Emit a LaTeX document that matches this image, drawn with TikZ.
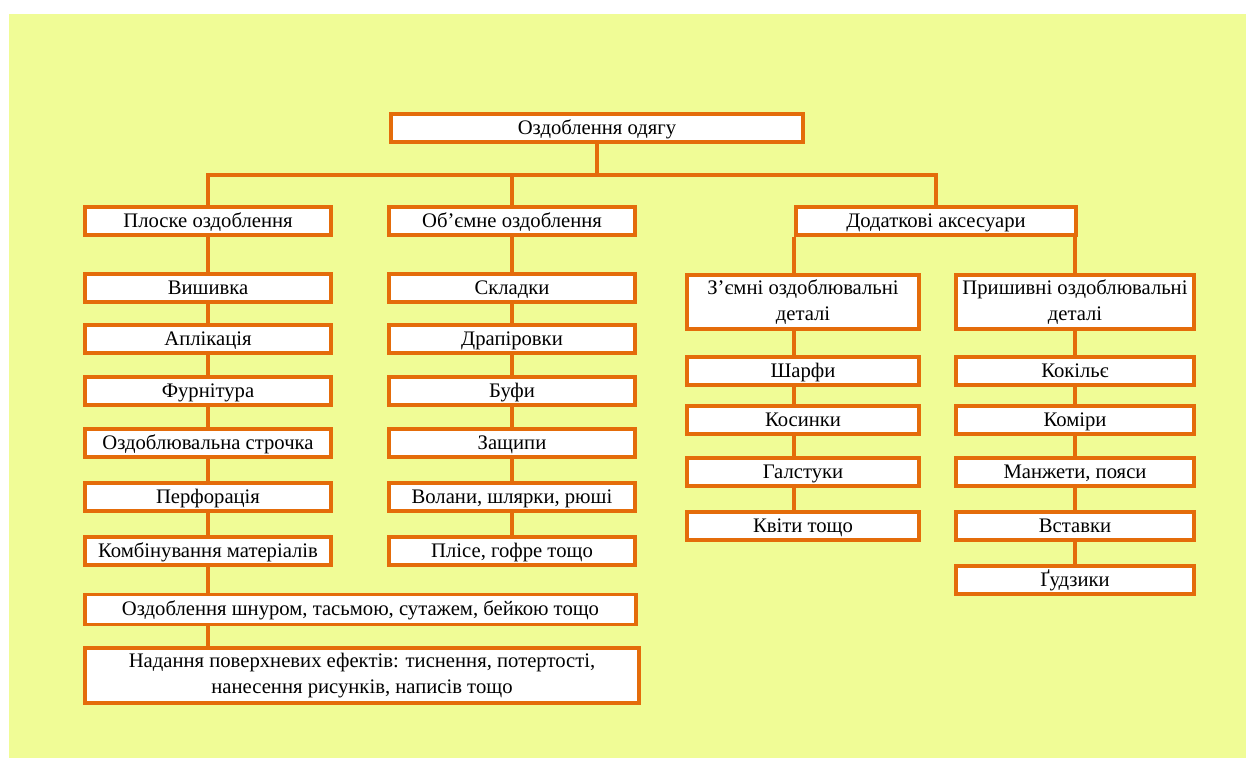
\documentclass[tikz,border=0pt]{standalone}
\usepackage{fontspec}
\setmainfont{Liberation Serif}
\usetikzlibrary{calc}
\definecolor{ramka}{HTML}{E46C0A}
\definecolor{tlo}{HTML}{F0FC96}
\tikzset{
	blok/.style={draw=ramka, line width=2.8pt, fill=white, inner sep=0pt,
		minimum height=21pt, align=center, font=\fontsize{15.5}{19.5}\selectfont},
	odyn/.style={blok, align=none, text height=12pt, text depth=2.5pt},
	stovp/.style={odyn, minimum width=184.5pt},
	zjem/.style={odyn, minimum width=174pt},
	prysh/.style={odyn, minimum width=178.5pt},
	liniia/.style={draw=ramka, line width=2.8pt}
}

\begin{document}
\begin{tikzpicture}[x=0.75pt,y=-0.75pt]
	\useasboundingbox (0,0) rectangle (1246,758);
\fill[tlo] (9,14) rectangle (1246,758);
\node[odyn, minimum width=309pt] (ozd) at (597,128) {Оздоблення одягу};
\coordinate (shyna) at (597,175);
\node[stovp] (ploske) at (208,221) {Плоске оздоблення};
\node[stovp] (objemne) at (512,221) {Об’ємне оздоблення};
\node[odyn, minimum width=210pt] (dodat) at (936,221) {Додаткові аксесуари};
% plaske
\node[stovp] (p1) at (208,288) {Вишивка};
\node[stovp] (p2) at (208,339) {Аплікація};
\node[stovp] (p3) at (208,391) {Фурнітура};
\node[stovp] (p4) at (208,443) {Оздоблювальна строчка};
\node[stovp] (p5) at (208,497) {Перфорація};
\node[stovp] (p6) at (208,551) {Комбінування матеріалів};
\node[odyn, minimum width=413pt, minimum height=22.5pt] (kord) at (360.5,609.5) {Оздоблення шнуром, тасьмою, сутажем, бейкою тощо};
\node[blok, minimum width=415.5pt, minimum height=41.25pt] (nadan) at (362,675.5) {Надання поверхневих ефектів: тиснення, потертості,\\нанесення рисунків, написів тощо};
% objemne
\node[stovp] (o1) at (512,288) {Складки};
\node[stovp] (o2) at (512,339) {Драпіровки};
\node[stovp] (o3) at (512,391) {Буфи};
\node[stovp] (o4) at (512,443) {Защипи};
\node[stovp] (o5) at (512,497) {Волани, шлярки, рюші};
\node[stovp] (o6) at (512,551) {Плісе, гофре тощо};
% aksesuary
\node[blok, minimum width=174pt, minimum height=40.5pt] (zjemni) at (803,302) {З’ємні оздоблювальні\\деталі};
\node[blok, minimum width=178.5pt, minimum height=40.5pt] (pryshyv) at (1075,302) {Пришивні оздоблювальні\\деталі};
\node[zjem] (z1) at (803,371) {Шарфи};
\node[zjem] (z2) at (803,420) {Косинки};
\node[zjem] (z3) at (803,472) {Галстуки};
\node[zjem] (z4) at (803,526) {Квіти тощо};
\node[prysh] (k1) at (1075,371) {Кокільє};
\node[prysh] (k2) at (1075,420) {Коміри};
\node[prysh] (k3) at (1075,472) {Манжети, пояси};
\node[prysh] (k4) at (1075,526) {Вставки};
\node[prysh] (k5) at (1075,580) {Ґудзики};

\draw[liniia] (ozd) -- (shyna);
\draw[liniia] (ploske) |- (dodat.north |- shyna) -- (dodat);
\draw[liniia] (objemne.north |- shyna) -- (objemne);
\foreach \a/\b in {ploske/p1,p1/p2,p2/p3,p3/p4,p4/p5,p5/p6,objemne/o1,o1/o2,o2/o3,o3/o4,o4/o5,o5/o6,pryshyv/k1,k1/k2,k2/k3,k3/k4,k4/k5}
	\draw[liniia] (\a) -- (\b);
\draw[liniia] (p6.south) -- (p6.south |- kord.north);
\draw[liniia] (p6.south |- kord.south) -- (p6.south |- nadan.north);
\draw[liniia] (dodat.south west) -- (dodat.south west |- zjemni.north);
\draw[liniia] (dodat.south -| pryshyv) -- (pryshyv);
\foreach \a/\b in {zjemni/z1,z1/z2,z2/z3,z3/z4}
	\draw[liniia] (\a.south -| dodat.south west) -- (\b.north -| dodat.south west);
	\end{tikzpicture}
\end{document}
